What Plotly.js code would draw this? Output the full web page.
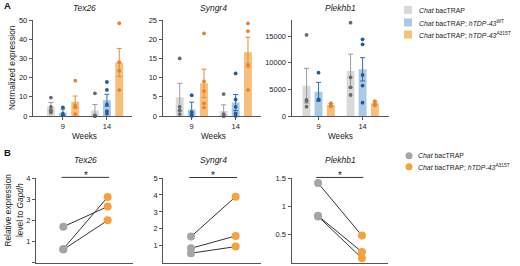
<!DOCTYPE html>
<html><head><meta charset="utf-8">
<script src="https://cdn.plot.ly/plotly-3.0.1.min.js"></script>
<style>html,body{margin:0;padding:0;background:#fff}</style>
</head><body><div id="chart" style="width:520px;height:266px"></div>
<script>
// ---------- DATA ----------
const weeks = ['9', '14'];
const genes = ['Tex26', 'Syngr4', 'Plekhb1'];
const legendA = ['<i>Chat</i> bacTRAP', '<i>Chat</i> bacTRAP; <i>hTDP-43</i><sup>WT</sup>', '<i>Chat</i> bacTRAP; <i>hTDP-43</i><sup>A315T</sup>'];
const legendB = ['<i>Chat</i> bacTRAP', '<i>Chat</i> bacTRAP; <i>hTDP-43</i><sup>A315T</sup>'];

// Panel A: Tex26
const tex26ChatMean = [4.8, 2.8];
const tex26WtMean = [1.7, 8.2];
const tex26MutMean = [7.4, 27.9];
const tex26ChatSem = [2.2, 3.2];
const tex26WtSem = [1.9, 3.1];
const tex26MutSem = [3.0, 7.3];
const tex26ChatDots = [[9.6, 4.8, 3.1, 1.8], [11.8, 0.3, 0, 0]];
const tex26WtDots = [[4.5, 1.2, 0.5, 0.3], [17.7, 13.6, 6.0, 2.5, 1.2]];
const tex26MutDots = [[18.4, 5.5, 4.5, 1.0], [48.3, 28.0, 23.6, 13.5]];

// Panel A: Syngr4
const syngr4ChatMean = [4.9, 1.3];
const syngr4WtMean = [1.7, 3.5];
const syngr4MutMean = [8.5, 16.6];
const syngr4ChatSem = [3.6, 1.6];
const syngr4WtSem = [1.9, 2.1];
const syngr4MutSem = [3.7, 3.9];
const syngr4ChatDots = [[15.0, 2.4, 1.5, 0.5], [5.7, 0.5, 0, 0]];
const syngr4WtDots = [[5.4, 1.0, 0.3, 0], [11.1, 4.3, 2.4, 0.7, 0]];
const syngr4MutDots = [[21.5, 9.0, 6.5, 3.3, 2.2], [24.1, 22.1, 13.3, 6.8]];

// Panel A: Plekhb1
const plekhb1ChatMean = [5680, 8440];
const plekhb1WtMean = [4560, 8750];
const plekhb1MutMean = [2060, 2380];
const plekhb1ChatSem = [3260, 3160];
const plekhb1WtSem = [1750, 2190];
const plekhb1MutSem = [300, 300];
const plekhb1ChatDots = [[15200, 3000, 2800, 1750], [17500, 7250, 5380, 3940]];
const plekhb1WtDots = [[8120, 3120, 3000], [14380, 13440, 7690, 5700, 2500]];
const plekhb1MutDots = [[2400, 2000, 1800], [2800, 2300, 2000]];

// Panel B: paired values (Chat bacTRAP -> hTDP-43 A315T)
const tex26BChat = [1.7, 0.65, 0.62];
const tex26BMut = [2.65, 3.1, 2.0];
const syngr4BChat = [1.54, 0.85, 0.56];
const syngr4BMut = [3.9, 1.58, 0.95];
const plekhb1BChat = [1.41, 0.83, 0.82];
const plekhb1BMut = [0.48, 0.19, 0.08];
const sigLevelB = [4.03, 5.03, 1.51];

// ---------- STYLE ----------
const W = 520, H = 266;
const px = v => v / W;
const py = v => 1 - v / H;
const FONT = 'Liberation Sans, Arial, sans-serif';
const fillColors = ['#d9d9d9', '#a9c9e4', '#f6c07c'];
const dotColors = ['#6a6a6a', '#1f5c9e', '#e8832a'];
const errColors = ['#9c9c9c', '#2f6fb0', '#ea8b35'];
const chatColorB = '#a5a5a5', mutColorB = '#f5a13e';
const offsets = [-0.273, 0, 0.28];

const aPanels = [
  {means: [tex26ChatMean, tex26WtMean, tex26MutMean], sems: [tex26ChatSem, tex26WtSem, tex26MutSem], dots: [tex26ChatDots, tex26WtDots, tex26MutDots]},
  {means: [syngr4ChatMean, syngr4WtMean, syngr4MutMean], sems: [syngr4ChatSem, syngr4WtSem, syngr4MutSem], dots: [syngr4ChatDots, syngr4WtDots, syngr4MutDots]},
  {means: [plekhb1ChatMean, plekhb1WtMean, plekhb1MutMean], sems: [plekhb1ChatSem, plekhb1WtSem, plekhb1MutSem], dots: [plekhb1ChatDots, plekhb1WtDots, plekhb1MutDots]}
];
const bPanels = [
  {chat: tex26BChat, mut: tex26BMut},
  {chat: syngr4BChat, mut: syngr4BMut},
  {chat: plekhb1BChat, mut: plekhb1BMut}
];

const axA = [
  {xd: [33, 132], xr: [-0.68, 1.57], yr: [0, 50], dtick: 10},
  {xd: [162.7, 260.7], xr: [-0.66, 1.57], yr: [0, 25], dtick: 5},
  {xd: [291.7, 389], xr: [-0.61, 1.6], yr: [0, 18000], dtick: 5000}
];
const axB = [
  {xd: [36, 133], xr: [-0.615, 1.57], yr: [0, 4], tv: [0, 1, 2, 3, 4]},
  {xd: [163.3, 260.7], xr: [-0.62, 1.56], yr: [0, 5], tv: [1, 2, 3, 4, 5]},
  {xd: [291.7, 388.3], xr: [-0.6, 1.6], yr: [0, 1.5], tv: [0.5, 1, 1.5]}
];
const yBotB = 262.7, yTopB = 178, yTopBracket = 166;
const yDomA = [py(116), py(20)];
const yDomB = [py(yBotB), py(yTopB)];
const yDomBracket = [py(yBotB), py(yTopBracket)];

const traces = [];
const layout = {
  width: W, height: H, autosize: false,
  margin: {l: 0, r: 0, t: 0, b: 0},
  paper_bgcolor: '#fff', plot_bgcolor: 'rgba(0,0,0,0)',
  showlegend: false, barmode: 'overlay',
  font: {family: FONT, size: 7.5, color: '#222'},
  annotations: [], shapes: []
};
const baseAxis = {
  showline: true, linecolor: '#555', linewidth: 1.2, showgrid: false, zeroline: false,
  ticks: 'outside', ticklen: 3, tickwidth: 1, tickcolor: '#555',
  tickfont: {family: FONT, size: 7.5, color: '#222'}, fixedrange: true
};

// Panel A
aPanels.forEach((p, i) => {
  const n = i + 1, sfx = n === 1 ? '' : String(n);
  const a = axA[i];
  layout['xaxis' + sfx] = Object.assign({}, baseAxis, {
    domain: [px(a.xd[0]), px(a.xd[1])], range: a.xr, anchor: 'y' + sfx,
    tickvals: weeks.map((w, k) => k), ticktext: weeks
  });
  layout['yaxis' + sfx] = Object.assign({}, baseAxis, {
    domain: yDomA, range: a.yr, anchor: 'x' + sfx, dtick: a.dtick, tick0: 0, tickformat: 'd'
  });
  for (let g = 0; g < 3; g++) {
    traces.push({
      type: 'bar', x: weeks.map((w, k) => k + offsets[g]), y: p.means[g], width: 0.18,
      marker: {color: fillColors[g], line: {width: 0}},
      error_y: {type: 'data', array: p.sems[g], visible: true, color: errColors[g], thickness: 1, width: 2.5},
      xaxis: 'x' + sfx, yaxis: 'y' + sfx, hoverinfo: 'skip'
    });
  }
  for (let g = 0; g < 3; g++) {
    const xs = [], ys = [];
    p.dots[g].forEach((arr, k) => arr.forEach(v => { xs.push(k + offsets[g]); ys.push(v); }));
    traces.push({
      type: 'scatter', mode: 'markers', x: xs, y: ys, cliponaxis: false,
      marker: {color: dotColors[g], size: 3.8},
      xaxis: 'x' + sfx, yaxis: 'y' + sfx, hoverinfo: 'skip'
    });
  }
  layout.annotations.push({
    xref: 'x' + sfx, yref: 'paper', x: 0.5, y: py(8.5), text: '<i>' + genes[i] + '</i>',
    showarrow: false, font: {size: 8.5, color: '#222'}, xanchor: 'center', yanchor: 'middle'
  });
  layout.annotations.push({
    xref: 'x' + sfx, yref: 'paper', x: 0.5, y: py(136), text: 'Weeks',
    showarrow: false, font: {size: 8.2, color: '#222'}, xanchor: 'center', yanchor: 'middle'
  });
});

// Panel B
bPanels.forEach((p, i) => {
  const n = i + 4, sfx = String(n);
  const nb = i + 7, sfxb = String(nb);
  const a = axB[i];
  layout['xaxis' + sfx] = Object.assign({}, baseAxis, {
    domain: [px(a.xd[0]), px(a.xd[1])], range: a.xr, anchor: 'y' + sfx,
    ticks: '', showticklabels: false
  });
  layout['yaxis' + sfx] = Object.assign({}, baseAxis, {
    domain: yDomB, range: a.yr, anchor: 'x' + sfx, tickvals: a.tv
  });
  // invisible bracket subplot with the same scale, taller so the significance bar is not clipped
  const scale = (yBotB - yTopBracket) / (yBotB - yTopB);
  layout['xaxis' + sfxb] = {visible: false, domain: [px(a.xd[0]), px(a.xd[1])], range: a.xr, anchor: 'y' + sfxb, fixedrange: true};
  layout['yaxis' + sfxb] = {visible: false, domain: yDomBracket, range: [a.yr[0], a.yr[1] * scale], anchor: 'x' + sfxb, fixedrange: true};

  p.chat.forEach((c, j) => {
    traces.push({
      type: 'scatter', mode: 'lines', x: [0, 1], y: [c, p.mut[j]],
      line: {color: '#333', width: 1}, cliponaxis: false,
      xaxis: 'x' + sfx, yaxis: 'y' + sfx, hoverinfo: 'skip'
    });
  });
  traces.push({
    type: 'scatter', mode: 'markers', x: p.chat.map(() => 0), y: p.chat, cliponaxis: false,
    marker: {color: chatColorB, size: 8}, xaxis: 'x' + sfx, yaxis: 'y' + sfx, hoverinfo: 'skip'
  });
  traces.push({
    type: 'scatter', mode: 'markers', x: p.mut.map(() => 1), y: p.mut, cliponaxis: false,
    marker: {color: mutColorB, size: 8}, xaxis: 'x' + sfx, yaxis: 'y' + sfx, hoverinfo: 'skip'
  });
  traces.push({
    type: 'scatter', mode: 'lines', x: [-0.04, 1.03], y: [sigLevelB[i], sigLevelB[i]],
    line: {color: '#333', width: 1}, xaxis: 'x' + sfxb, yaxis: 'y' + sfxb, hoverinfo: 'skip'
  });
  layout.annotations.push({
    xref: 'x' + sfx, yref: 'paper', x: 0.5, y: py(159.5), text: '<i>' + genes[i] + '</i>',
    showarrow: false, font: {size: 8.5, color: '#222'}, xanchor: 'center', yanchor: 'middle'
  });
  layout.annotations.push({
    xref: 'x' + sfx, yref: 'paper', x: 0.5, y: py(175.8), text: '*',
    showarrow: false, font: {size: 10, color: '#222'}, xanchor: 'center', yanchor: 'middle'
  });
});

// Axis titles (A and B)
layout.annotations.push({xref: 'paper', yref: 'paper', x: px(12), y: py(68), text: 'Normalized expression',
  textangle: -90, showarrow: false, font: {size: 8.3, color: '#222'}, xanchor: 'center', yanchor: 'middle'});
layout.annotations.push({xref: 'paper', yref: 'paper', x: px(7.5), y: py(210), text: 'Relative expression',
  textangle: -90, showarrow: false, font: {size: 8.3, color: '#222'}, xanchor: 'center', yanchor: 'middle'});
layout.annotations.push({xref: 'paper', yref: 'paper', x: px(20), y: py(210), text: 'level to <i>Gapdh</i>',
  textangle: -90, showarrow: false, font: {size: 8.3, color: '#222'}, xanchor: 'center', yanchor: 'middle'});

// Panel letters
layout.annotations.push({xref: 'paper', yref: 'paper', x: px(1.5), y: py(5.5), text: '<b>A</b>',
  showarrow: false, font: {size: 9.5, color: '#111'}, xanchor: 'left', yanchor: 'middle'});
layout.annotations.push({xref: 'paper', yref: 'paper', x: px(1.5), y: py(152), text: '<b>B</b>',
  showarrow: false, font: {size: 9.5, color: '#111'}, xanchor: 'left', yanchor: 'middle'});

// Legend A (squares)
const legARows = [10, 22.5, 34.5];
legendA.forEach((t, g) => {
  layout.shapes.push({type: 'rect', xref: 'paper', yref: 'paper', x0: px(404), x1: px(412),
    y0: py(legARows[g] + 4), y1: py(legARows[g] - 4), fillcolor: fillColors[g], line: {width: 0}});
  layout.annotations.push({xref: 'paper', yref: 'paper', x: px(416.5), y: py(legARows[g]), text: t,
    showarrow: false, font: {size: 6.9, color: '#222'}, xanchor: 'left', yanchor: 'middle'});
});
// Legend B (circles)
const legBRows = [155.7, 166.7];
const legBColors = [chatColorB, mutColorB];
legendB.forEach((t, g) => {
  layout.shapes.push({type: 'circle', xref: 'paper', yref: 'paper', x0: px(405.5), x1: px(412.5),
    y0: py(legBRows[g] + 3.5), y1: py(legBRows[g] - 3.5), fillcolor: legBColors[g], line: {width: 0}});
  layout.annotations.push({xref: 'paper', yref: 'paper', x: px(416), y: py(legBRows[g]), text: t,
    showarrow: false, font: {size: 6.9, color: '#222'}, xanchor: 'left', yanchor: 'middle'});
});

Plotly.newPlot('chart', traces, layout, {displayModeBar: false, staticPlot: true});
</script>
</body></html>
